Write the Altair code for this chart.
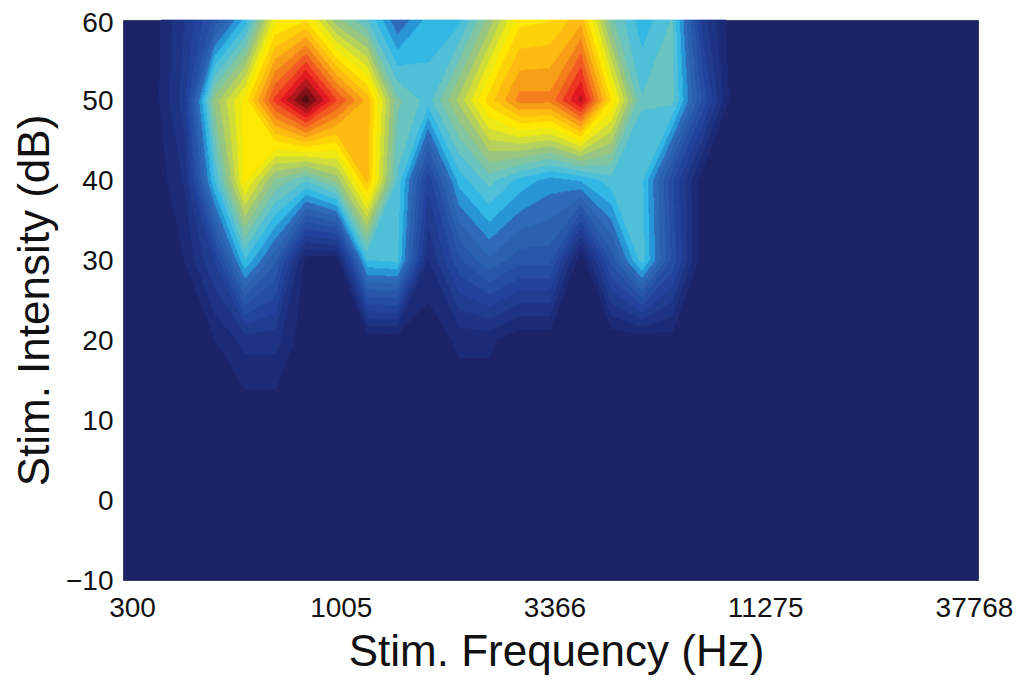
import numpy as np
import pandas as pd
import altair as alt

TICK_FREQ = [300, 1005, 3366, 11275, 37768]
TICK_DB = [-10, 0, 10, 20, 30, 40, 50, 60]
TAIL = [0] * 8
R60 = [0, .01, .10, .22, .36, .62, .66, .50, .42, .28, .36, .37, .50, .65, .66, .72, .46, .36, .42, .12, 0] + TAIL
R50 = [0, .01, .12, .50, .64, .85, 1.0, .84, .72, .46, .40, .53, .68, .78, .78, .92, .66, .42, .43, .20, 0] + TAIL
R40 = [0, 0, .07, .38, .64, .48, .42, .50, .71, .41, .15, .36, .43, .37, .33, .35, .40, .39, .18, 0, 0] + TAIL
R30 = [0, 0, .03, .14, .38, .25, .01, .01, .38, .39, .065, .20, .27, .22, .22, 0, .22, .40, .20, 0, 0] + TAIL
R20 = [0, 0, .01, .03, .08, .08, 0, 0, 0, 0, 0, .04, .04, 0, 0, 0, 0, 0, .01, 0, 0] + TAIL
R10 = [0] * 29
GRID = np.array([R10, R20, R30, R40, R50, R60], dtype=float)

CMAP_T = [0, .15, .30, .35, .41, .51, .63, .72, .80, .88, 1.0]
CMAP_C = ["#1c2369", "#22439c", "#2f6eb8", "#27b5ea", "#5ac3d5", "#9cc67e",
          "#fff200", "#fdb813", "#f37021", "#ed1c24", "#4a0f12"]
LEVEL_START, LEVEL_STEP = 0.0312, 0.035
NAVY = CMAP_C[0]
LEVELS = np.arange(LEVEL_START, 1.0, LEVEL_STEP)


def band_colour(band):
    t = LEVEL_START + (band + 0.5) * LEVEL_STEP
    rgb = np.array([int(c[i:i + 2], 16) for c in CMAP_C for i in (1, 3, 5)]).reshape(-1, 3)
    vals = [np.interp(t, CMAP_T, rgb[:, j]) for j in range(3)]
    return "#%02x%02x%02x" % tuple(int(round(v)) for v in vals)


# Filled contour bands of GRID with straight segments inside each grid cell
NX, NY = 32, 80   # sub-cells per grid cell
u = (np.arange(NX) + 0.5) / NX
v = (np.arange(NY) + 0.5) / NY
U, V = np.meshgrid(u, v)
ncols, nrows = 21, GRID.shape[0] - 1
bands = np.zeros((nrows * NY, ncols * NX), dtype=int) - 1


def above_mask(c, lev):
    px = [0., 1., 1., 0.]
    py = [0., 0., 1., 1.]
    on = [z >= lev for z in c]
    n = sum(on)
    if n == 0:
        return np.zeros_like(U, dtype=bool)
    if n == 4:
        return np.ones_like(U, dtype=bool)
    pts = []
    for a in range(4):
        b = (a + 1) % 4
        if on[a] != on[b]:
            f = (lev - c[a]) / (c[b] - c[a])
            pts.append((px[a] + f * (px[b] - px[a]), py[a] + f * (py[b] - py[a])))
    if len(pts) != 2:
        b00, b10, b11, b01 = c
        val = b00 * (1 - U) * (1 - V) + b10 * U * (1 - V) + b11 * U * V + b01 * (1 - U) * V
        return val >= lev
    (x0, y0), (x1, y1) = pts
    side = (x1 - x0) * (V - y0) - (y1 - y0) * (U - x0)
    k = on.index(True)
    ref = (x1 - x0) * (py[k] - y0) - (y1 - y0) * (px[k] - x0)
    return side * ref >= 0


for r in range(nrows):
    for k in range(ncols):
        corners = [GRID[r, k], GRID[r, k + 1], GRID[r + 1, k + 1], GRID[r + 1, k]]
        count = np.zeros_like(U, dtype=int)
        for lev in LEVELS:
            if max(corners) >= lev:
                count += above_mask(corners, lev)
        bands[r * NY:(r + 1) * NY, k * NX:(k + 1) * NX] = count - 1

x_steps = np.arange(ncols * NX + 1) / NX
y_steps = 10 + np.arange(nrows * NY + 1) * (10 / NY)
freq_edges = 300 * (37768 / 300) ** (x_steps / 28)
records = []
for j in range(bands.shape[0]):
    row = bands[j]
    start = 0
    for i in range(1, len(row) + 1):
        if i == len(row) or row[i] != row[start]:
            if row[start] >= 0:
                records.append({
                    "f0": round(float(freq_edges[start]), 2), "f1": round(float(freq_edges[i]), 2),
                    "d0": float(y_steps[j]), "d1": float(y_steps[j + 1]),
                    "c": band_colour(int(row[start])),
                })
            start = i
df = pd.DataFrame(records)

FONT = "Liberation Sans"
LABEL_SHIFT = {
    "condition": [
        {"test": "datum.value == 300", "value": 9},
        {"test": "datum.value == 11275", "value": 1},
        {"test": "datum.value == 37768", "value": -4},
    ],
    "value": 4,
}
Y_LABEL_SHIFT = {
    "condition": {"test": "datum.value == 60", "value": 3},
    "value": 1,
}
chart = (
    alt.Chart(df)
    .mark_rect(strokeWidth=0.7)
    .encode(
        x=alt.X("f0:Q",
                scale=alt.Scale(type="log", domain=[300, 37768], nice=False),
                axis=alt.Axis(values=TICK_FREQ, format="d", title="Stim. Frequency (Hz)",
                              ticks=False, domain=False, grid=False, labelFontSize=28,
                              labelFont=FONT, labelColor="#111111", labelPadding=14,
                              labelOffset=LABEL_SHIFT, labelOverlap=False, labelFlush=False,
                              titleFont=FONT, titleFontSize=44, titleFontWeight="normal",
                              titleColor="#111111", titlePadding=8, titleX=433)),
        x2="f1:Q",
        y=alt.Y("d0:Q",
                scale=alt.Scale(domain=[-10, 60], nice=False),
                axis=alt.Axis(values=TICK_DB, title="Stim. Intensity (dB)",
                              ticks=False, domain=False, grid=False, labelFontSize=28,
                              labelFont=FONT, labelColor="#111111", labelPadding=10,
                              labelOffset=Y_LABEL_SHIFT, labelOverlap=False,
                              titleFont=FONT, titleFontSize=44, titleFontWeight="normal",
                              titleColor="#111111", titlePadding=8)),
        y2="d1:Q",
        color=alt.Color("c:N", scale=None),
        stroke=alt.Stroke("c:N", scale=None),
    )
    .properties(
        width=855, height=560,
        autosize=alt.AutoSizeParams(type="none"),
        padding={"left": 115, "top": 12, "right": 36, "bottom": 98},
        background="white",
    )
    .configure_view(fill=NAVY, stroke="#3a3f60", strokeWidth=1)
)
chart.save("out.html", embed_options={"renderer": "svg", "actions": False})
